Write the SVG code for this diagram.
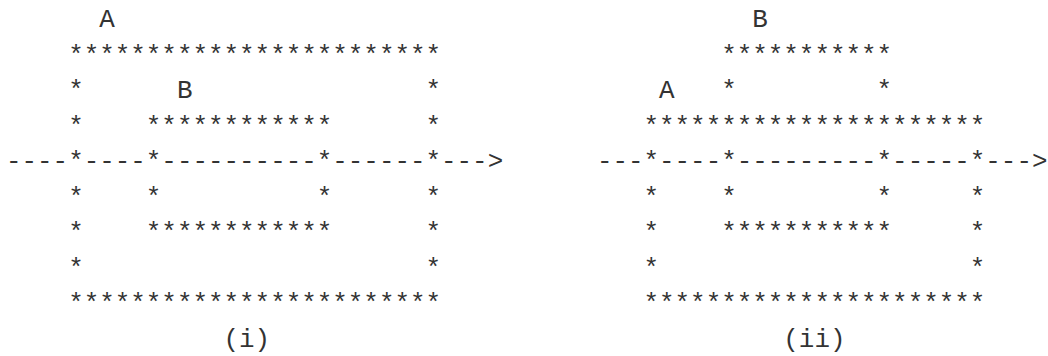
<svg xmlns="http://www.w3.org/2000/svg" width="1048" height="356" viewBox="0 0 1048 356" xml:space="preserve">
<style>
text{font-family:"Liberation Mono","DejaVu Sans Mono",monospace;font-size:25.9px;fill:#333;white-space:pre}
</style>
<rect width="1048" height="356" fill="#fff"/>
<g id="diagram-i">
<text x="6" y="27">      A</text>
<text x="6" y="62.5">    ************************</text>
<text x="6" y="98">    *      B               *</text>
<text x="6" y="133.5">    *    ************      *</text>
<text x="6" y="169">----*----*----------*------*---&gt;</text>
<text x="6" y="204.5">    *    *          *      *</text>
<text x="6" y="240">    *    ************      *</text>
<text x="6" y="275.5">    *                      *</text>
<text x="6" y="311">    ************************</text>
<text x="6" y="346.5">              (i)</text>
</g>
<g id="diagram-ii">
<text x="596.9" y="27">          B</text>
<text x="596.9" y="62.5">        ***********</text>
<text x="596.9" y="98">    A   *         *</text>
<text x="596.9" y="133.5">   **********************</text>
<text x="596.9" y="169">---*----*---------*-----*---&gt;</text>
<text x="596.9" y="204.5">   *    *         *     *</text>
<text x="596.9" y="240">   *    ***********     *</text>
<text x="596.9" y="275.5">   *                    *</text>
<text x="596.9" y="311">   **********************</text>
<text x="596.9" y="346.5">            (ii)</text>
</g>
</svg>
